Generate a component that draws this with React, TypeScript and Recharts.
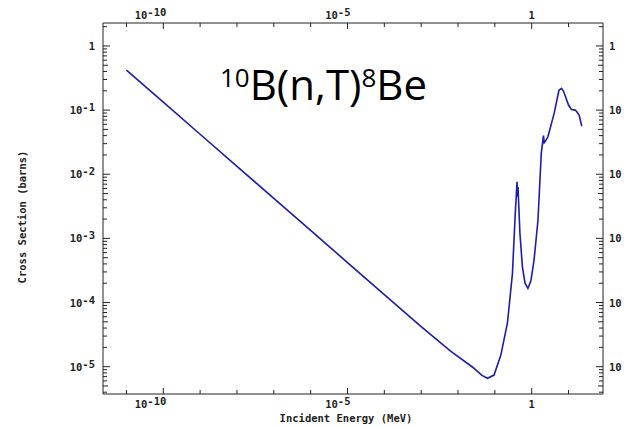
import React from 'react';
import { LineChart, Line, XAxis, YAxis, Customized } from 'recharts';

// incident energy (MeV) and cross section (barns)
const energies = [
  1e-11, 1e-10, 1e-9, 1e-8, 1e-7, 1e-6, 1e-5, 1e-4, 1e-3, 6.3e-3, 0.025, 0.0447, 0.063, 0.095,
  0.145, 0.22, 0.3, 0.355, 0.4, 0.412, 0.425, 0.48, 0.56, 0.66, 0.79, 0.955, 1.16, 1.48, 1.82,
  2.0, 2.09, 2.19, 2.29, 2.75, 4.07, 5.5, 6.46, 7.24, 8.3, 10, 12, 15.1, 16.6, 19.5, 22.9,
];
const crossSections = [
  0.42, 0.133, 0.042, 0.0133, 0.0042, 0.00133, 4.2e-4, 1.33e-4, 4.2e-5, 1.75e-5, 9.8e-6, 7.3e-6,
  6.6e-6, 7.4e-6, 1.5e-5, 4.8e-5, 2.8e-4, 2.2e-3, 7.6e-3, 4.5e-3, 6.3e-3, 1.2e-3, 3.6e-4, 2.0e-4,
  1.66e-4, 2.2e-4, 4.6e-4, 1.9e-3, 0.021, 0.033, 0.04, 0.031, 0.032, 0.038, 0.089, 0.204, 0.219,
  0.2, 0.162, 0.12, 0.102, 0.1, 0.095, 0.083, 0.056,
];

const xDomain = [2.31e-12, 86.3];
const yDomain = [3.75e-6, 2.28];

const xTicks = [1e-11, 1e-10, 1e-9, 1e-8, 1e-7, 1e-6, 1e-5, 1e-4, 1e-3, 1e-2, 1e-1, 1, 10];
const xLabelValues = [1e-10, 1e-5, 1];
const xLabelExps = ['-10', '-5', ''];

const yDecades = [1e-6, 1e-5, 1e-4, 1e-3, 1e-2, 1e-1, 1];
const yLabelExps = ['-6', '-5', '-4', '-3', '-2', '-1', ''];
// right-hand labels are cropped by the image edge in the original
const yRightLabels = ['10', '10', '10', '10', '10', '10', '1'];
const mantissas = [1, 2, 3, 4, 5, 6, 7, 8, 9];

const data = energies.map((e, i) => ({ e, s: crossSections[i] }));

const yTicks: number[] = [];
yDecades.forEach((d) => {
  mantissas.forEach((m) => {
    const v = m * d;
    if (v >= yDomain[0] && v <= yDomain[1]) yTicks.push(v);
  });
});

const axisColor = '#222';
const tickColor = '#222';
const font = "'DejaVu Sans Mono', monospace";

const sameVal = (a: number, b: number) => Math.abs(Math.log10(a) - Math.log10(b)) < 1e-6;

const powLabel = (exp: string) =>
  exp === '' ? '1' : (
    <>
      <tspan>10</tspan>
      <tspan dy={-3}>{exp}</tspan>
    </>
  );

const XTickBottom = (props: any) => <XTickBase {...props} side="bottom" />;
const XTickTop = (props: any) => <XTickBase {...props} side="top" />;
const YTickLeft = (props: any) => <YTickBase {...props} side="left" />;
const YTickRight = (props: any) => <YTickBase {...props} side="right" />;

function XTickBase(props: any) {
  const side = props.side;
  const x = Number(props.x);
  const y = Number(props.y);
  const v = props.payload.value;
  const idx = xLabelValues.findIndex((l) => sameVal(l, v));
  const major = idx >= 0;
  const len = major ? 6 : 4;
  const dir = side === 'bottom' ? -1 : 1;
  const exp = major ? xLabelExps[idx] : '';
  return (
    <g>
      <line x1={x} y1={y} x2={x} y2={y + dir * len} stroke={tickColor} strokeWidth={1} />
      {major && (
        <text
          x={exp === '' ? x : x + 3}
          y={side === 'bottom' ? y + 14 : y - 4}
          textAnchor={exp === '' ? 'middle' : 'end'}
          fontFamily={font}
          fontSize={10.5}
          fontWeight="bold"
          fill="#222"
        >
          {powLabel(exp)}
        </text>
      )}
    </g>
  );
}

function YTickBase(props: any) {
  const side = props.side;
  const x = Number(props.x);
  const y = Number(props.y);
  const v = props.payload.value;
  const idx = yDecades.findIndex((d) => sameVal(d, v));
  const major = idx >= 0;
  const five = yDecades.some((d) => sameVal(d * 5, v));
  const len = major ? 7 : five ? 5 : 4;
  const dir = side === 'left' ? 1 : -1;
  return (
    <g>
      <line x1={x} y1={y} x2={x + dir * len} y2={y} stroke={tickColor} strokeWidth={1} />
      {major && (
        <text
          x={side === 'left' ? x - 8 : x + 6}
          y={y + 4}
          textAnchor={side === 'left' ? 'end' : 'start'}
          fontFamily={font}
          fontSize={10.5}
          fontWeight="bold"
          fill="#222"
        >
          {side === 'left' ? powLabel(yLabelExps[idx]) : yRightLabels[idx]}
        </text>
      )}
    </g>
  );
}

const Texts = () => (
  <g>
    <text x={220} y={100} fontFamily="'Open Sans', sans-serif" fontSize={42} fill="#000">
      <tspan fontSize={26} dy={-13}>10</tspan>
      <tspan dy={13}>B(n,T)</tspan>
      <tspan fontSize={26} dy={-13}>8</tspan>
      <tspan dy={13}>Be</tspan>
    </text>
    <text
      x={346}
      y={422}
      textAnchor="middle"
      fontFamily={font}
      fontSize={10.5}
      fontWeight="bold"
      fill="#222"
    >
      Incident Energy (MeV)
    </text>
    <text
      x={26}
      y={217}
      textAnchor="middle"
      transform="rotate(-90 26 217)"
      fontFamily={font}
      fontSize={10.5}
      fontWeight="bold"
      fill="#222"
    >
      Cross Section (barns)
    </text>
  </g>
);

const App = () => {
  return (
    <div style={{ position: 'absolute', left: 0, top: 0, width: 625, height: 428, background: '#fff' }}>
      <LineChart width={625} height={428} data={data} margin={{ top: 0, right: 0, bottom: 0, left: 0 }}>
        <XAxis
          xAxisId="bottom"
          dataKey="e"
          type="number"
          scale="log"
          domain={xDomain}
          allowDataOverflow
          ticks={xTicks}
          interval={0}
          height={34}
          tickSize={0}
          tickMargin={0}
          tickLine={false}
          axisLine={{ stroke: axisColor }}
          tick={XTickBottom}
        />
        <XAxis
          xAxisId="top"
          orientation="top"
          dataKey="e"
          type="number"
          scale="log"
          domain={xDomain}
          allowDataOverflow
          ticks={xTicks}
          interval={0}
          height={23}
          tickSize={0}
          tickMargin={0}
          tickLine={false}
          axisLine={{ stroke: axisColor }}
          tick={XTickTop}
        />
        <YAxis
          yAxisId="left"
          type="number"
          scale="log"
          domain={yDomain}
          allowDataOverflow
          ticks={yTicks}
          interval={0}
          width={103}
          tickSize={0}
          tickMargin={0}
          tickLine={false}
          axisLine={{ stroke: axisColor }}
          tick={YTickLeft}
        />
        <YAxis
          yAxisId="right"
          orientation="right"
          type="number"
          scale="log"
          domain={yDomain}
          allowDataOverflow
          ticks={yTicks}
          interval={0}
          width={22}
          tickSize={0}
          tickMargin={0}
          tickLine={false}
          axisLine={{ stroke: axisColor }}
          tick={YTickRight}
        />
        <Line
          xAxisId="top"
          yAxisId="right"
          dataKey="s"
          stroke="none"
          dot={false}
          activeDot={false}
          isAnimationActive={false}
        />
        <Line
          xAxisId="bottom"
          yAxisId="left"
          dataKey="s"
          type="linear"
          stroke="#1c1cb0"
          strokeWidth={1.6}
          dot={false}
          activeDot={false}
          isAnimationActive={false}
        />
        <Customized component={Texts} />
      </LineChart>
    </div>
  );
};

export default App;
